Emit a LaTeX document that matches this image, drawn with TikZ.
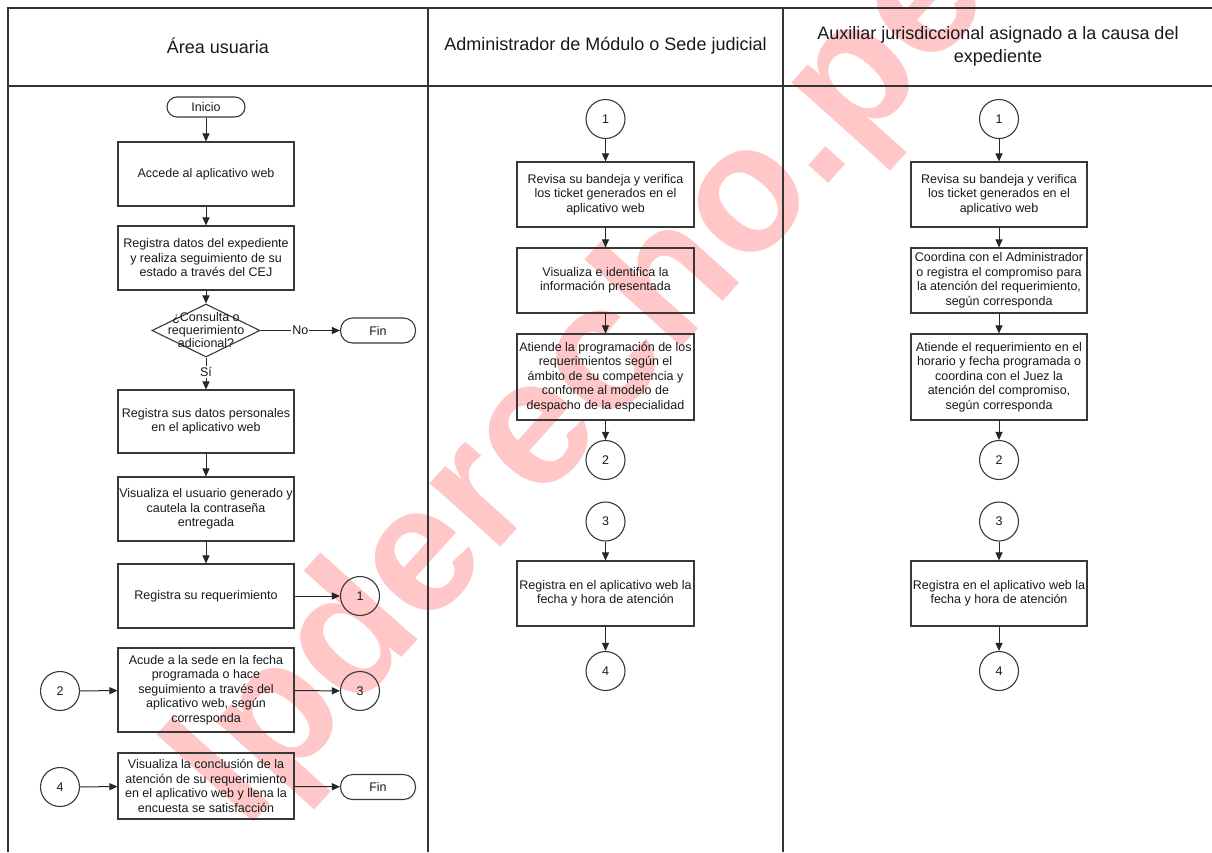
\documentclass[tikz,border=0pt]{standalone}
\usepackage{fontspec}
\setmainfont{Liberation Sans}
\usetikzlibrary{arrows.meta,shapes.geometric}
\begin{document}
\begin{tikzpicture}[x=1pt,y=-1pt,
  every node/.style={font=\fontsize{12.5}{14.5}\selectfont, text=black!90},
  proc/.style={draw=black!78, line width=1.1pt, minimum width=176pt, align=center, inner sep=0pt},
  term/.style={draw=black!78, line width=1.1pt, rounded corners=12pt, minimum width=75pt, minimum height=25pt, inner sep=0pt},
  conn/.style={draw=black!78, line width=1.1pt, circle, minimum size=39pt, inner sep=0pt},
  decis/.style={draw=black!78, line width=1.1pt, diamond, minimum width=108pt, minimum height=53pt, inner sep=0pt},
  flow/.style={draw=black!85, line width=1pt, -{Triangle[length=8pt,width=7pt]}},
  lane/.style={draw=black!80, line width=1.2pt},
  hdr/.style={font=\fontsize{18}{23}\selectfont, align=center},
  lbl/.style={fill=white, inner sep=1pt},
  wmark/.style={font=\fontsize{180}{180}\selectfont\bfseries, text=red, opacity=0.22, inner sep=0pt}
]
\useasboundingbox (0,0) rectangle (1212,852);

% watermark
\node[wmark, rotate=48, anchor=base west] (wm) at (245,832) {lpderecho.pe};

% frame
\draw[lane] (8,852) -- (8,8) -- (1212,8);
\draw[lane] (8,86) -- (1212,86);
\draw[lane] (428,8) -- (428,852);
\draw[lane] (783,8) -- (783,852);

% headers
\node[hdr] (h1) at (218,46) {Área usuaria};
\node[hdr] (h2) at (605.5,46) {Administrador de Módulo o Sede judicial};
\node[hdr] (h3) at (998,46) {Auxiliar jurisdiccional asignado a la causa del\\expediente};

% left lane
\node[term, minimum width=78pt, minimum height=20pt, rounded corners=10pt] (inicio) at (206,107) {Inicio};
\node[proc, minimum height=64pt] (b1) at (206,174) {Accede al aplicativo web};
\node[proc, minimum height=64pt] (b2) at (206,258) {Registra datos del expediente\\y realiza seguimiento de su\\estado a través del CEJ};
\node[decis] (dia) at (206,330.5) {};
\node[align=center, font=\fontsize{12.5}{13}\selectfont] (diat) at (206,330.5) {¿Consulta o\\requerimiento\\adicional?};
\node[term] (fin1) at (378,330.5) {Fin};
\node[proc, minimum height=63pt] (b3) at (206,421.5) {Registra sus datos personales\\en el aplicativo web};
\node[proc, minimum height=64pt] (b4) at (206,509) {Visualiza el usuario generado y\\cautela la contraseña\\entregada};
\node[proc, minimum height=64pt] (b5) at (206,596) {Registra su requerimiento};
\node[conn] (c1L) at (360,596) {1};
\node[proc, minimum height=84pt] (b6) at (206,690) {Acude a la sede en la fecha\\programada o hace\\seguimiento a través del\\aplicativo web, según\\corresponda};
\node[conn] (c2L) at (60,691) {2};
\node[conn] (c3L) at (360,691) {3};
\node[proc, minimum height=66pt] (b7) at (206,786) {Visualiza la conclusión de la\\atención de su requerimiento\\en el aplicativo web y llena la\\encuesta se satisfacción};
\node[conn] (c4L) at (60,787) {4};
\node[term] (fin2) at (378,787) {Fin};

\draw[flow] (inicio) -- (b1);
\draw[flow] (b1) -- (b2);
\draw[flow] (b2) -- (dia);
\draw[flow] (dia.east) -- node[lbl] {No} (fin1);
\draw[flow] (dia.south) -- node[lbl, pos=0.45] {Sí} (b3);
\draw[flow] (b3) -- (b4);
\draw[flow] (b4) -- (b5);
\draw[flow] (b5) -- (c1L);
\draw[flow] (c2L) -- (b6);
\draw[flow] (b6) -- (c3L);
\draw[flow] (c4L) -- (b7);
\draw[flow] (b7) -- (fin2);

% middle lane
\node[conn] (c1M) at (605.5,119) {1};
\node[proc, minimum height=65pt, minimum width=177pt] (m1) at (605.5,194.5) {Revisa su bandeja y verifica\\los ticket generados en el\\aplicativo web};
\node[proc, minimum height=65pt, minimum width=177pt] (m2) at (605.5,280.5) {Visualiza e identifica la\\información presentada};
\node[proc, minimum height=86pt, minimum width=177pt] (m3) at (605.5,377) {Atiende la programación de los\\requerimientos según el\\ámbito de su competencia y\\conforme al modelo de\\despacho de la especialidad};
\node[conn] (c2M) at (605.5,460) {2};
\node[conn] (c3M) at (605.5,521.5) {3};
\node[proc, minimum height=65pt, minimum width=177pt] (m4) at (605.5,593.5) {Registra en el aplicativo web la\\fecha y hora de atención};
\node[conn] (c4M) at (605.5,671) {4};

\draw[flow] (c1M) -- (m1);
\draw[flow] (m1) -- (m2);
\draw[flow] (m2) -- (m3);
\draw[flow] (m3) -- (c2M);
\draw[flow] (c3M) -- (m4);
\draw[flow] (m4) -- (c4M);

% right lane
\node[conn] (c1R) at (999,119) {1};
\node[proc, minimum height=65pt] (r1) at (999,194.5) {Revisa su bandeja y verifica\\los ticket generados en el\\aplicativo web};
\node[proc, minimum height=65pt] (r2) at (999,280.5) {Coordina con el Administrador\\o registra el compromiso para\\la atención del requerimiento,\\según corresponda};
\node[proc, minimum height=86pt] (r3) at (999,377) {Atiende el requerimiento en el\\horario y fecha programada o\\coordina con el Juez la\\atención del compromiso,\\según corresponda};
\node[conn] (c2R) at (999,460) {2};
\node[conn] (c3R) at (999,521.5) {3};
\node[proc, minimum height=65pt] (r4) at (999,593.5) {Registra en el aplicativo web la\\fecha y hora de atención};
\node[conn] (c4R) at (999,671) {4};

\draw[flow] (c1R) -- (r1);
\draw[flow] (r1) -- (r2);
\draw[flow] (r2) -- (r3);
\draw[flow] (r3) -- (c2R);
\draw[flow] (c3R) -- (r4);
\draw[flow] (r4) -- (c4R);
\end{tikzpicture}
\end{document}
